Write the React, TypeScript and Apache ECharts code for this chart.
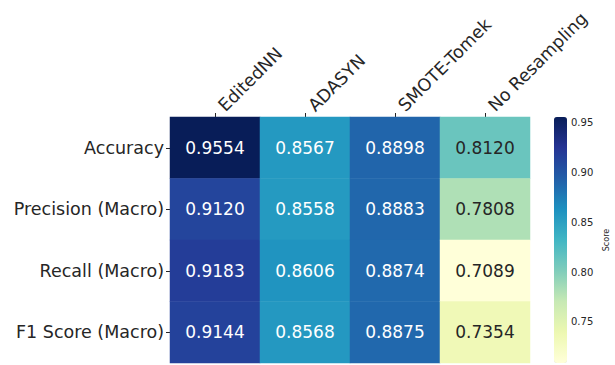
import React, { useEffect, useRef } from "react";
import * as echarts from "echarts";

const methods = ["EditedNN", "ADASYN", "SMOTE-Tomek", "No Resampling"];
const metrics = ["Accuracy", "Precision (Macro)", "Recall (Macro)", "F1 Score (Macro)"];
const editedNN = [0.9554, 0.912, 0.9183, 0.9144];
const adasyn = [0.8567, 0.8558, 0.8606, 0.8568];
const smoteTomek = [0.8898, 0.8883, 0.8874, 0.8875];
const noResampling = [0.812, 0.7808, 0.7089, 0.7354];
const colorbarTicks = [0.75, 0.8, 0.85, 0.9, 0.95];
const ylgnbu = ["#ffffd9", "#edf8b1", "#c7e9b4", "#7fcdbb", "#41b6c4", "#1d91c0", "#225ea8", "#253494", "#081d58"];

const FONT = "DejaVu Sans";
const TEXT = "#262626";

export default function App() {
  const ref = useRef<HTMLDivElement>(null);
  useEffect(() => {
    const chart = echarts.init(ref.current!, null, { renderer: "svg" });
    const columns = [editedNN, adasyn, smoteTomek, noResampling];
    const all = columns.flat();
    const vmin = Math.min(...all);
    const vmax = Math.max(...all);
    const data: any[] = [];
    columns.forEach((col, xi) => {
      col.forEach((v, yi) => {
        const t = (v - vmin) / (vmax - vmin);
        data.push({
          value: [xi, yi, v],
          label: { color: t > 0.45 ? "#ffffff" : TEXT },
        });
      });
    });
    chart.setOption({
      animation: false,
      backgroundColor: "#ffffff",
      textStyle: { fontFamily: FONT },
      grid: [
        { left: 170, top: 117, width: 360, height: 246 },
        { left: 554, top: 117, width: 13, height: 246 },
      ],
      xAxis: [
        {
          type: "category",
          data: methods,
          position: "top",
          gridIndex: 0,
          axisLine: { show: false },
          axisTick: { show: true, alignWithLabel: true, length: 4, lineStyle: { color: TEXT } },
          axisLabel: {
            rotate: -45,
            fontSize: 17.5,
            color: TEXT,
            fontFamily: FONT,
            margin: 15,
            verticalAlign: "top",
          },
          splitLine: { show: false },
        },
        { type: "value", gridIndex: 1, show: false, min: 0, max: 1 },
      ],
      yAxis: [
        {
          type: "category",
          data: metrics,
          inverse: true,
          gridIndex: 0,
          axisLine: { show: false },
          axisTick: { show: true, alignWithLabel: true, length: 4, lineStyle: { color: TEXT } },
          axisLabel: { fontSize: 17.5, color: TEXT, fontFamily: FONT, margin: 6 },
          splitLine: { show: false },
        },
        {
          type: "value",
          gridIndex: 1,
          position: "right",
          min: vmin,
          max: vmax,
          axisLine: { show: false },
          splitLine: { show: false },
          axisTick: {
            show: true,
            length: 3,
            customValues: colorbarTicks,
            lineStyle: { color: TEXT },
          },
          axisLabel: {
            customValues: colorbarTicks,
            formatter: (v: number) => v.toFixed(2),
            fontSize: 10,
            color: TEXT,
            fontFamily: FONT,
            margin: 4,
          },
          name: "Score",
          nameLocation: "middle",
          nameRotate: 90,
          nameGap: 35,
          nameTextStyle: { fontSize: 8, color: TEXT, fontFamily: FONT },
        },
      ],
      visualMap: {
        type: "continuous",
        min: vmin,
        max: vmax,
        seriesIndex: 0,
        calculable: false,
        orient: "vertical",
        left: 554,
        top: 117,
        itemWidth: 13,
        itemHeight: 246,
        padding: 0,
        showLabel: false,
        inRange: { color: ylgnbu },
      },
      series: [
        {
          type: "heatmap",
          xAxisIndex: 0,
          yAxisIndex: 0,
          data,
          label: {
            show: true,
            fontSize: 17,
            fontFamily: FONT,
            formatter: (p: any) => p.value[2].toFixed(4),
          },
          itemStyle: { borderWidth: 0 },
        },
      ],
    });
    return () => chart.dispose();
  }, []);
  return <div ref={ref} style={{ width: 615, height: 365, position: "absolute", left: 0, top: 0 }} />;
}
